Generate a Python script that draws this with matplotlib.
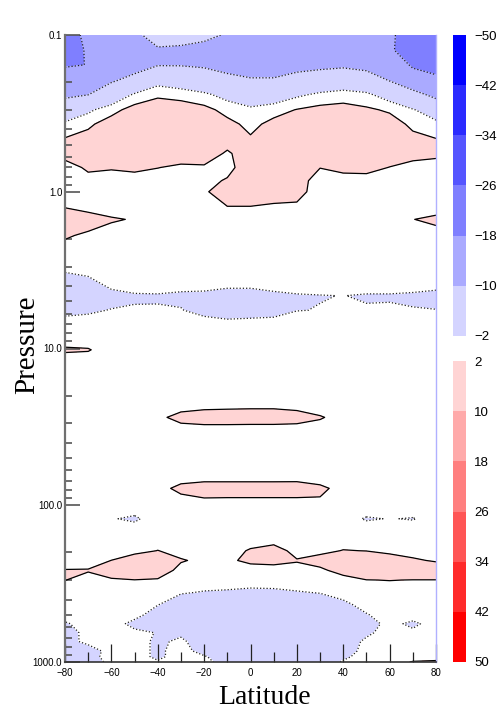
import matplotlib
matplotlib.use("Agg")
import matplotlib.pyplot as plt
import numpy as np
from matplotlib.ticker import FixedLocator, NullFormatter

# latitude columns and pressure rows (hPa) of the field
lat = [-80, -70, -60, -50, -40, -30, -20, -10, 0, 10, 20, 30, 40, 50, 60, 70, 80]
pressure = [0.1, 0.125, 0.155, 0.195, 0.24, 0.3, 0.37, 0.46, 0.57, 0.7, 0.85, 1.0,
            1.25, 1.5, 1.9, 2.4, 3.0, 3.7, 4.6, 5.7, 7.0, 8.5, 10.2, 12,
            24, 27.5, 32, 55, 68, 78, 90, 105, 122, 140, 165, 195, 225, 260,
            300, 360, 430, 500, 570, 650, 740, 850, 925, 1000]

# field values, one row per pressure level
field = [
    [-22, -15.9, -15, -11, -8, -8, -9, -10.4, -14, -14, -15, -15, -15, -15.5, -17, -21, -22],
    [-20.2, -17.5, -13.5, -12.5, -10.6, -11, -11.5, -12.5, -13.4, -13.4, -14, -14, -14, -14.5, -17.2, -21, -21],
    [-18.5, -17.9, -12.1, -12, -10.3, -10.3, -10.8, -12, -12.2, -12.2, -12, -11.5, -11, -11.8, -13, -19, -20],
    [-14.9, -13.9, -10.6, -8.3, -3.8, -4.9, -6.2, -8.2, -9.5, -9.5, -7.5, -6.2, -5.4, -6.7, -10.2, -13.8, -16.7],
    [-11.2, -10.1, -6.2, -1.4, 1.2, 0.2, -1.2, -3.5, -5, -5, -2.8, -1.2, -0.3, -1.1, -4.4, -8, -11.6],
    [-5.8, -2.9, 0.33, 4, 5, 5, 3.5, 0.4, -1.2, 0.2, 2.2, 3.5, 4, 2.8, 1.3, -1.65, -5.1],
    [-1.2, 1.0, 4.5, 5, 5, 5, 5, 3.5, 0.6, 3.5, 4.5, 5, 5, 5, 4.5, 0.8, -0.7],
    [2.3, 4, 5, 5, 5, 5, 5, 3.5, 2.6, 5, 5, 5, 5, 5, 5, 3.5, 2.1],
    [4.1, 5, 5, 5, 5, 4, 4, 1.5, 4, 5, 5, 4, 5, 5, 4, 3.5, 3],
    [-0.5, 3, 2.4, 3, 2.1, 1.3, 1.5, 0.5, 5, 5, 5, 2.1, 3, 3.2, 1.9, 0.5, 0],
    [0, 0, 0, 0, 0, 0, 0.5, 2.5, 5, 4.5, 4, 0, 0.5, 0.5, 0, 0, 0],
    [0, 0, 0, 0, 0, 0, 1.5, 4, 4, 3.5, 3.5, 0, 0, 0, 0, 0, 0],
    [1.8, 0.5, 0, 0, 0, 0, 0, 1.9, 1.9, 1.5, 1.2, 0, 0, 0, 0, 0, 0],
    [5, 4.2, 2.48, 1.68, 0, 0, 0, 0, 0, 0, 0, 0, 0, 0, 0, 1.9, 3.1],
    [2.6, 1.15, 0, 0, 0, 0, 0, 0, 0, 0, 0, 0, 0, 0, 0, 0, 0],
    [0, 0, 0, 0, 0, 0, 0, 0, 0, 0, 0, 0, 0, 0, 0, 0, 0],
    [-0.5, 0, 0, 0, 0, 0, 0, 0, 0, 0, 0, 0, 0, 0, 0, 0, 0],
    [-4.4, -3.0, 0, 0, 0, 0, 0, 0, 0, 0, 0, 0, 0, 0, 0, 0, 0],
    [-5, -5, -3.65, -2.4, -2.3, -2.8, -3, -4.2, -4.2, -2.9, -2.3, -2.1, -1.95, -2.3, -2.3, -2.6, -3.3],
    [-3.35, -2.7, -1.8, -1.7, -1.75, -1.8, -3.4, -5.2, -4.4, -3.8, -2.1, -1.9, -1.7, -1.7, -1.6, -1.8, -1.9],
    [0, 0, 0, 0, 0, 0, 0, 0, 0, 0, 0, 0, 0, 0, 0, 0, 0],
    [0, 0, 0, 0, 0, 0, 0, 0, 0, 0, 0, 0, 0, 0, 0, 0, 0],
    [2.6, 2.3, 0, 0, 0, 0, 0, 0, 0, 0, 0, 0, 0, 0, 0, 0, 0],
    [0, 0, 0, 0, 0, 0, 0, 0, 0, 0, 0, 0, 0, 0, 0, 0, 0],
    [0, 0, 0, 0, 0, 0, 1.2, 1.5, 1.7, 1.7, 1, 0, 0, 0, 0, 0, 0],
    [0, 0, 0, 0, 0, 5, 6, 6, 6, 6, 5, 2.5, 0, 0, 0, 0, 0],
    [0, 0, 0, 0, 0, -0.5, 0.2, 0.2, 0, 0, 0, 0, 0, 0, 0, 0, 0],
    [0, 0, 0, 0, 0, 0, 0, 0, 0, 0, 0, 0, 0, 0, 0, 0, 0],
    [0, 0, 0, 0, 0, 0, 0.4, 0.4, 0.4, 0.4, 0.5, 0, 0, 0, 0, 0, 0],
    [0, 0, 0, 0, -0.5, 4, 6, 6, 6, 6, 6, 3.3, 0, 0, 0, 0, 0],
    [0, 0, 0, 0, 0, 0.5, 1.95, 1.8, 1.8, 1.8, 1.8, 1.8, 0, 0, 0, 0, 0],
    [0, 0, 0, 0, 0, 0, 0, 0, 0, 0, 0, 0, 0, 0, 0, 0, 0],
    [0, 0, -1.6, -3, 1, 0, 0, 0, 0, 0, 0, 0, 0, -2.5, -1.8, -2.3, 0],
    [0, 0, 0, 0, 0, 0, 0, 0, 0, 0, 0, 0, 0, 0, 0, 0, 0],
    [0, 0, 0, 0, 0, 0, 0, 0, 0, 0.3, 0, 0, 0, 0, 0, 0, 0],
    [0, 0, 0, 0.5, 2.1, 0.5, 0, 0, 2.5, 4, 0.5, 0.8, 2.2, 1.9, 0.5, 0, 0],
    [0, 0, 2.05, 5, 5, 2.4, 1.0, 1.2, 3, 3.5, 2.3, 4, 5, 5.5, 5.3, 2.8, 1.4],
    [2.2, 2.3, 5, 6, 5, 0.5, 0, 0, 0, 0, 0.5, 1, 4, 6, 6, 6, 6],
    [2.1, 0.5, 1.3, 1.9, 1.5, 0, 0, 0, 0, 0, 0, 0, 0, 1.9, 2.1, 1.9, 1.9],
    [0, 0, 0, 0, 0, -1.6, -2.3, -2.6, -3.2, -3, -2.3, -1.8, -0.5, 0, 0, 0, 0],
    [0, 0, 0, 0, -1.8, -5, -5, -5, -5, -5, -5, -5, -3, -0.5, 0, 0, 0],
    [0, 0, 0, 0, -5, -5, -5, -5, -5, -5, -5, -5, -5, -2.3, 0, 0, 0],
    [-2.6, 0, 1, -4, -5, -5, -5, -5, -5, -5, -5, -5, -5, -4, -0.67, -3, 0],
    [-5, 0, 0, -0.5, -2.3, -3, -5, -5, -5, -5, -5, -5, -5, -3, 0, -1, 0],
    [-5, 0, 0, 0, -3, -1, -5, -5, -5, -5, -5, -5, -5, -1, 0, 0, 0],
    [-5, -6, 1, 0, -3, 0, -4, -5, -5, -5, -5, -5, -5, 0, 0, 0, 0],
    [-5, -4, 0, 0, -3, 0, -1.5, -5, -5, -5, -5, -5, -3, 0, 0, 0, 0.5],
    [-5, -4, -1, 0, -1.5, 0, 0, -5, -5, -5, -5, -5, -1.5, 0, 0, 2.3, 2.6],
]

levels = [-50, -42, -34, -26, -18, -10, -2, 2, 10, 18, 26, 34, 42, 50]
fill_colors = ["#0000ff", "#2a2aff", "#5555ff", "#7f7fff", "#aaaaff", "#d4d4ff", "#ffffff",
               "#ffd4d4", "#ffaaaa", "#ff7f7f", "#ff5555", "#ff2a2a", "#ff0000"]

p_ticks = [0.1, 1, 10, 100, 1000]
p_labels = ["0.1", "1.0", "10.0", "100.0", "1000.0"]
lat_ticks = [-80, -60, -40, -20, 0, 20, 40, 60, 80]

Z = np.array(field)

fig = plt.figure(figsize=(5.04, 7.12), dpi=100)
ax = fig.add_axes([65 / 504, 50 / 712, 371 / 504, 627 / 712])

cf = ax.contourf(lat, pressure, Z, levels=levels, colors=fill_colors)
neg = [l for l in levels if l < 0]
pos = [l for l in levels if l > 0]
ax.contour(lat, pressure, Z, levels=neg, colors="#222222",
           linewidths=0.9, linestyles=[(0, (1, 1.6))])
ax.contour(lat, pressure, Z, levels=pos, colors="black",
           linewidths=0.9, linestyles="solid")

ax.set_yscale("log")
ax.set_ylim(1000, 0.1)
ax.set_xlim(-80, 80)

ax.yaxis.set_major_locator(FixedLocator(p_ticks))
ax.set_yticklabels(p_labels)
minor_p = [m * 10.0 ** e for e in range(-1, 3) for m in range(2, 10)]
ax.yaxis.set_minor_locator(FixedLocator(minor_p))
ax.yaxis.set_minor_formatter(NullFormatter())
ax.xaxis.set_major_locator(FixedLocator(lat_ticks))
ax.xaxis.set_minor_locator(FixedLocator(list(range(-70, 80, 20))))

for lab in ax.get_xticklabels() + ax.get_yticklabels():
    lab.set_fontfamily("Liberation Sans")
    lab.set_fontsize(7)

ax.tick_params(axis="y", which="major", direction="in", length=11, width=1.2,
               color="#555555", pad=2, right=False)
ax.tick_params(axis="y", which="minor", direction="in", length=5, width=1.2,
               color="#555555", right=False)
ax.tick_params(axis="x", which="major", direction="in", length=13, width=0.9,
               color="#222222", pad=4, top=False)
ax.tick_params(axis="x", which="minor", direction="in", length=7, width=0.9,
               color="#222222", top=False)

ax.spines["top"].set_visible(False)
ax.spines["right"].set_color("#b0b0ff")
ax.spines["right"].set_linewidth(1.0)
ax.spines["left"].set_color("#707070")
ax.spines["left"].set_linewidth(1.6)
ax.spines["bottom"].set_color("#333333")
ax.spines["bottom"].set_linewidth(1.2)

fig.text(27 / 504, 1 - 345 / 712, "Pressure", rotation=90, ha="center", va="center",
         fontsize=21, family="Liberation Serif")
fig.text(265 / 504, 1 - 704 / 712, "Latitude", ha="center", va="baseline",
         fontsize=20, family="Liberation Serif")

cax = fig.add_axes([453 / 504, 50 / 712, 13 / 504, 627 / 712])
cb = fig.colorbar(cf, cax=cax, spacing="proportional", ticks=levels)
cax.invert_yaxis()
cb.outline.set_visible(False)
cax.tick_params(length=0, pad=6)
for lab in cax.get_yticklabels():
    lab.set_fontfamily("Liberation Sans")
    lab.set_fontsize(9.5)

fig.savefig("out.png", dpi=100)
